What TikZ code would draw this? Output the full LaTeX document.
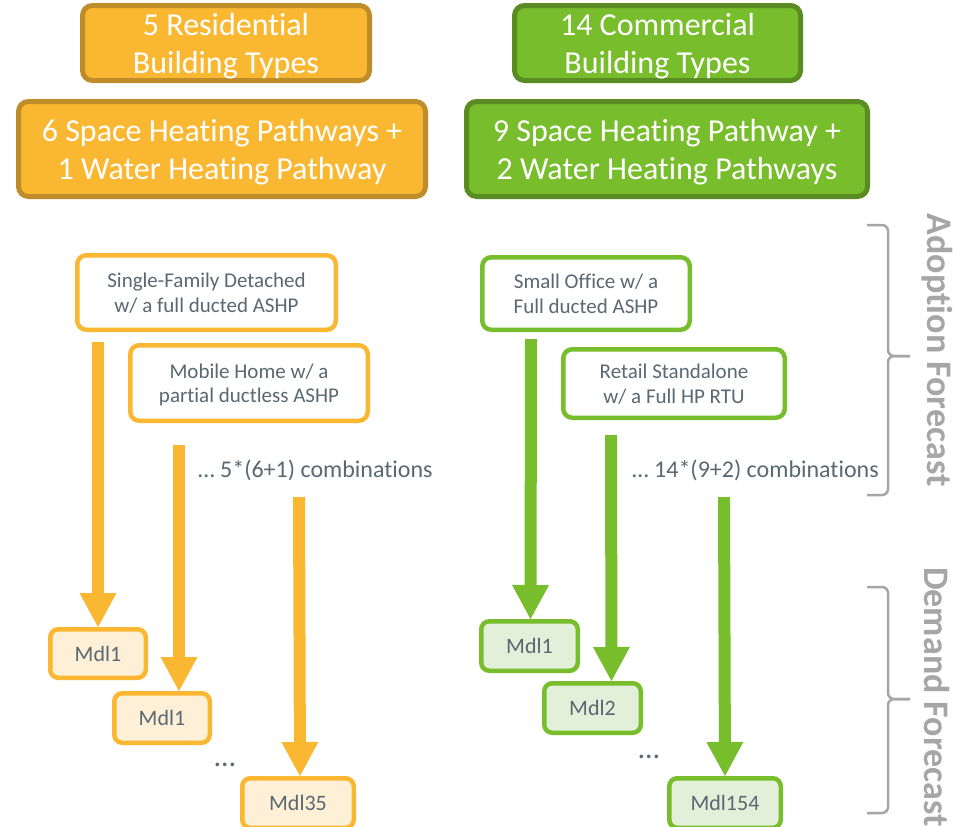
\documentclass[tikz,border=0pt]{standalone}
\usepackage{fontspec}
\setmainfont{Carlito}[Ligatures=NoCommon]
\usetikzlibrary{arrows.meta}
\definecolor{ora}{RGB}{250,184,50}
\definecolor{orad}{RGB}{190,141,42}
\definecolor{orl}{RGB}{254,240,214}
\definecolor{grn}{RGB}{120,189,43}
\definecolor{grnd}{RGB}{90,140,35}
\definecolor{grl}{RGB}{226,240,217}
\definecolor{txt}{RGB}{89,104,114}
\definecolor{brc}{RGB}{166,166,166}
\tikzset{
  topbox/.style={rounded corners=10pt, line width=5pt, inner sep=0pt, align=center, text=white, text depth=0pt, font=\fontsize{32}{38}\selectfont},
  obox/.style={topbox, draw=orad, fill=ora},
  gbox/.style={topbox, draw=grnd, fill=grn},
  midbox/.style={rounded corners=9pt, line width=4.5pt, inner sep=0pt, align=center, text=txt, fill=white, text depth=0pt, font=\fontsize{21}{24.5}\selectfont},
  omid/.style={midbox, draw=ora},
  gmid/.style={midbox, draw=grn},
  mdl/.style={rounded corners=8pt, line width=4.5pt, inner sep=0pt, align=center, text=txt, font=\fontsize{22}{24}\selectfont},
  omdl/.style={mdl, draw=ora, fill=orl},
  gmdl/.style={mdl, draw=grn, fill=grl},
  oarr/.style={draw=ora, line width=12pt, -{Triangle[width=37pt,length=34pt,line width=0pt]}},
  garr/.style={draw=grn, line width=12pt, -{Triangle[width=37pt,length=34pt,line width=0pt]}},
  comb/.style={text=txt, inner sep=0pt, font=\fontsize{24}{28}\selectfont},
  dots/.style={text=txt, inner sep=0pt, anchor=base, font=\fontsize{30}{34}\selectfont},
  brace/.style={draw=brc, line width=2.5pt, rounded corners=6pt},
  side/.style={text=brc, inner sep=0pt, rotate=-90, font=\bfseries\fontsize{36}{40}\selectfont}
}
\begin{document}
\begin{tikzpicture}[x=1pt,y=-1pt]
\useasboundingbox[fill=white] (0,0) rectangle (953,827);
% top boxes
\node[obox, minimum width=287pt, minimum height=75pt] (rbt) at (226,43) {5 Residential\\Building Types};
\node[obox, minimum width=407pt, minimum height=95pt] (rpw) at (222,149) {6 Space Heating Pathways +\\1 Water Heating Pathway};
\node[gbox, minimum width=286pt, minimum height=75pt] (cbt) at (657.5,43) {14 Commercial\\Building Types};
\node[gbox, minimum width=401pt, minimum height=95pt] (cpw) at (667,149) {9 Space Heating Pathway +\\2 Water Heating Pathways};
% middle boxes
\node[omid, minimum width=258.5pt, minimum height=74.5pt] (sfd) at (206.5,292.5) {Single-Family Detached\\w/ a full ducted ASHP};
\node[omid, minimum width=237.5pt, minimum height=75.5pt] (mh) at (249,383) {Mobile Home w/ a\\partial ductless ASHP};
\node[gmid, minimum width=207.5pt, minimum height=72.5pt] (so) at (586,293.5) {Small Office w/ a\\Full ducted ASHP};
\node[gmid, minimum width=221.5pt, minimum height=68.5pt] (rs) at (674,383.5) {Retail Standalone\\w/ a Full HP RTU};
\node[comb, anchor=west] (lc) at (198,470) {\dots\ 5*(6+1) combinations};
\node[comb, anchor=west] (rc) at (632,470) {\dots\ 14*(9+2) combinations};
% model boxes
\node[omdl, minimum width=95.5pt, minimum height=48.5pt] (l1) at (98,653.5) {Mdl1};
\node[omdl, minimum width=95.5pt, minimum height=49.5pt] (l2) at (162,718) {Mdl1};
\node[omdl, minimum width=111.5pt, minimum height=49.5pt] (l35) at (298,803) {Mdl35};
\node[gmdl, minimum width=96.5pt, minimum height=49.5pt] (r1) at (529.5,646) {Mdl1};
\node[gmdl, minimum width=96.5pt, minimum height=49.5pt] (r2) at (592.5,708) {Mdl2};
\node[gmdl, minimum width=111.5pt, minimum height=49.5pt] (r154) at (725,803) {Mdl154};
\node[dots] (ld) at (225,766) {\dots};
\node[dots] (rd) at (649,758) {\dots};
% arrow start points
\coordinate (la1) at (98,342);
\coordinate (la2) at (179,445);
\coordinate (la3) at (299,497);
\coordinate (ra1) at (531,339);
\coordinate (ra2) at (611,435);
\coordinate (ra3) at (724,497);
\draw[oarr] (la1) -- (l1.north);
\draw[oarr] (la2) -- ([xshift=17pt]l2.north);
\draw[oarr] (la3) -- ([xshift=2pt]l35.north);
\draw[garr] (ra1) -- ([xshift=1pt]r1.north);
\draw[garr] (ra2) -- ([xshift=19pt]r2.north);
\draw[garr] (ra3) -- (r154.north);
% braces
\draw[brace] (867,225) -| (888,356) -- (910,356);
\draw[brace] (867,495) -| (888,356) -- (910,356);
\draw[brace] (867,587) -| (888,699) -- (910,699);
\draw[brace] (867,813) -| (888,699) -- (910,699);
\node[side] (af) at (937,350) {Adoption Forecast};
\node[side] (df) at (937,697) {Demand Forecast};
\end{tikzpicture}
\end{document}
